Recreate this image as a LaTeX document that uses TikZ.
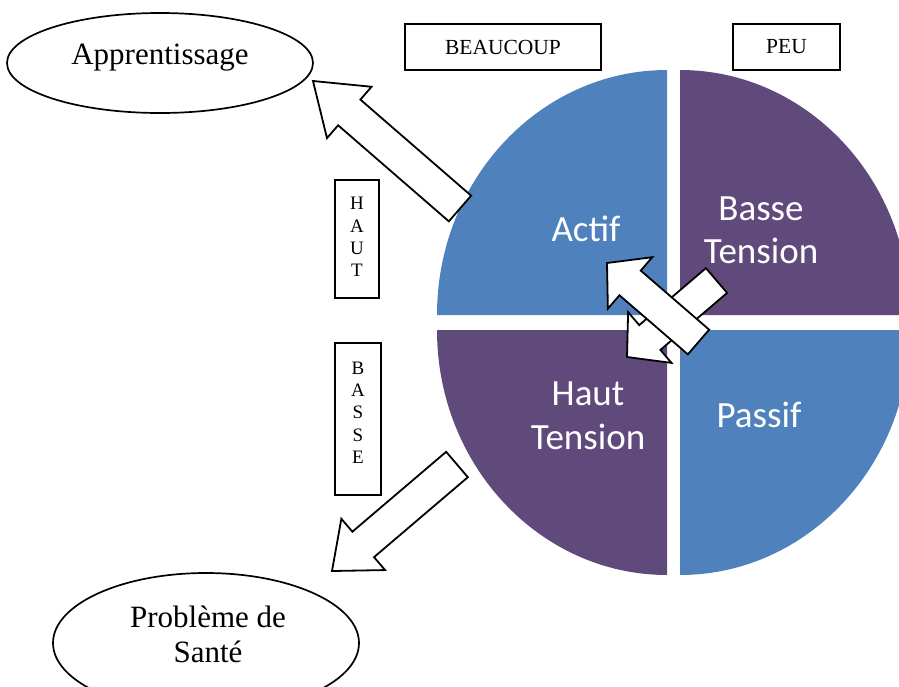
\documentclass[tikz,border=0pt]{standalone}
\usepackage{fontspec}
\setmainfont{Liberation Serif}
\newfontfamily\calib{Carlito}
\usetikzlibrary{calc,shapes.geometric}
\definecolor{qblue}{HTML}{4F81BD}
\definecolor{qpurple}{HTML}{604A7B}
\tikzset{
  blkarrow/.style={draw=black, fill=white, line width=1.8pt, line join=miter},
  labelbox/.style={draw=black, line width=1.7pt},
  quadtext/.style={text=white, font=\calib\fontsize{37}{43.5}\selectfont, align=center, inner sep=0pt},
  bigserif/.style={font=\fontsize{31}{35}\selectfont, align=center, inner sep=0pt},
  topbox/.style={draw=black, line width=1.7pt, font=\fontsize{21.5}{24}\selectfont, minimum height=46pt, inner sep=0pt},
  vtext/.style={font=\fontsize{19}{22.3}\selectfont, align=center, inner sep=0pt},
  oval/.style={ellipse, draw=black, line width=1.7pt, inner sep=0pt}
}
% #1 prefix, #2 tail coordinate, #3 tip coordinate, #4 shaft half width, #5 head half width, #6 head length
\newcommand\blockarr[6]{%
  \coordinate (#1hb) at ($(#3)!#6!(#2)$);
  \draw[blkarrow] ($(#2)!#4!90:(#3)$) -- ($(#1hb)!#4!90:(#3)$) -- ($(#1hb)!#5!90:(#3)$)
     -- (#3) -- ($(#1hb)!#5!-90:(#3)$) -- ($(#1hb)!#4!-90:(#3)$) -- ($(#2)!#4!-90:(#3)$) -- cycle;
}
\begin{document}
\begin{tikzpicture}[x=1pt,y=-1pt]
\useasboundingbox (0,0) rectangle (899,686);
\clip (0,0) rectangle (899,686);

% quadrants
\fill[qblue]   (667,315) -- (437,315) arc[start angle=180,end angle=90,x radius=230pt,y radius=245pt] -- cycle;
\fill[qpurple] (680,315) -- (680,70) arc[start angle=90,end angle=0,x radius=230pt,y radius=245pt] -- cycle;
\fill[qblue]   (680,330) -- (910,330) arc[start angle=0,end angle=-90,x radius=230pt,y radius=245pt] -- cycle;
\fill[qpurple] (667,330) -- (667,575) arc[start angle=-90,end angle=-180,x radius=230pt,y radius=245pt] -- cycle;

\node[quadtext, anchor=base] (actif) at (586,241) {Actif};
\node[quadtext] (basse) at (761,230.5) {Basse\\Tension};
\node[quadtext] (haut) at (588,416) {Haut\\Tension};
\node[quadtext, anchor=base] (passif) at (759,427) {Passif};

% top labels
\node[topbox, minimum width=196pt] (beaucoup) at (503,47) {BEAUCOUP};
\node[topbox, minimum width=107pt] (peu) at (786.5,47) {PEU};

% side labels
\draw[labelbox] (335,180) rectangle (379,298);
\node[vtext] (hautlbl) at (357,237) {H\\A\\U\\T};
\draw[labelbox] (335,343) rectangle (381,495);
\node[vtext] (basselbl) at (358,412.5) {B\\A\\S\\S\\E};

% ellipses
\node[oval, minimum width=306pt, minimum height=100pt] (app) at (160,63) {};
\node[bigserif, anchor=base] (apptxt) at (160,64) {Apprentissage};
\node[oval, minimum width=306pt, minimum height=140pt] (sante) at (206,643) {};
\node[bigserif] (santetxt) at (208,634) {Problème de\\Santé};

% block arrows
\coordinate (a1tail) at (460,208.5);
\coordinate (a1tip) at (313,81);
\blockarr{a1}{a1tail}{a1tip}{17pt}{34pt}{48pt}
\coordinate (a2tail) at (457,464.5);
\coordinate (a2tip) at (332,571);
\blockarr{a2}{a2tail}{a2tip}{16.7pt}{33.7pt}{41pt}
\coordinate (abtail) at (716.5,280.5);
\coordinate (abtip) at (627,357);
\blockarr{ab}{abtail}{abtip}{16.3pt}{33.4pt}{30pt}
\coordinate (aatail) at (698.5,342);
\coordinate (aatip) at (607,263);
\blockarr{aa}{aatail}{aatip}{16.3pt}{34pt}{30.5pt}
\end{tikzpicture}
\end{document}
